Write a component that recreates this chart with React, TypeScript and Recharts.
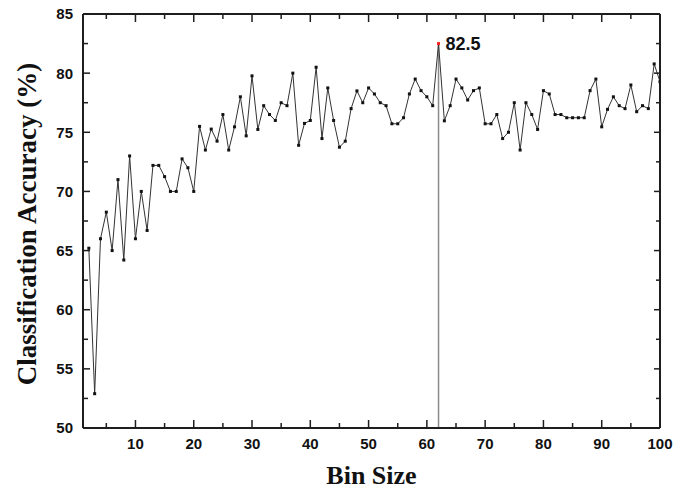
import React from 'react';
import { LineChart, Line, XAxis, YAxis, ReferenceLine } from 'recharts';

// classification accuracy (%) for bin sizes 2..100
const accuracy = [
  65.2, 52.9, 66.0, 68.25, 65.0, 71.0, 64.2, 73.0, 66.0,
  70.0, 66.7, 72.2, 72.2, 71.25, 70.0, 70.0, 72.75, 72.0, 70.0,
  75.5, 73.5, 75.27, 74.25, 76.5, 73.5, 75.46, 78.0, 74.7, 79.77,
  75.24, 77.25, 76.5, 76.0, 77.5, 77.25, 80.0, 73.9, 75.75, 76.0,
  80.5, 74.47, 78.75, 76.0, 73.74, 74.25, 77.0, 78.5, 77.5, 78.75,
  78.24, 77.5, 77.25, 75.72, 75.72, 76.23, 78.24, 79.5, 78.52, 78.0,
  77.25, 82.5, 75.97, 77.25, 79.5, 78.75, 77.73, 78.52, 78.75, 75.72,
  75.72, 76.5, 74.47, 75.0, 77.5, 73.5, 77.5, 76.5, 75.24, 78.52,
  78.24, 76.5, 76.5, 76.23, 76.23, 76.23, 76.23, 78.52, 79.5, 75.46,
  76.94, 78.0, 77.25, 77.0, 79.0, 76.74, 77.25, 77.0, 80.78, 79.28,
];
const binSizes = accuracy.map((_, i) => i + 2);

const xTicks = [5, 10, 15, 20, 25, 30, 35, 40, 45, 50, 55, 60, 65, 70, 75, 80, 85, 90, 95, 100];
const xLabels = [10, 20, 30, 40, 50, 60, 70, 80, 90, 100];
const yTicks = [50, 52.5, 55, 57.5, 60, 62.5, 65, 67.5, 70, 72.5, 75, 77.5, 80, 82.5, 85];
const yLabels = [50, 55, 60, 65, 70, 75, 80, 85];

const peakBin = 62;
const peakText = '82.5';

const data = binSizes.map((bin, i) => ({ bin, acc: accuracy[i] }));

const AXIS = '#1e1e1e';
const SANS = '"Liberation Sans", Arial, sans-serif';
const SERIF = '"Liberation Serif", "Times New Roman", serif';

const BottomTick = ({ x, y, payload }: any) => {
  const major = xLabels.includes(payload.value);
  return (
    <g>
      <line x1={x} x2={x} y1={y} y2={y - (major ? 8 : 5)} stroke={AXIS} strokeWidth={1.5} />
      {major && (
        <text x={x} y={y + 21} textAnchor="middle" fontFamily={SANS} fontWeight="bold" fontSize={15} fill="#111">
          {payload.value}
        </text>
      )}
    </g>
  );
};

const TopTick = ({ x, y, payload }: any) => {
  const major = xLabels.includes(payload.value);
  return <line x1={x} x2={x} y1={y} y2={y + (major ? 8 : 5)} stroke={AXIS} strokeWidth={1.5} />;
};

const LeftTick = ({ x, y, payload }: any) => {
  const major = yLabels.includes(payload.value);
  return (
    <g>
      <line x1={x} x2={x + (major ? 7 : 5)} y1={y} y2={y} stroke={AXIS} strokeWidth={1.5} />
      {major && (
        <text x={x - 10} y={y} dy="0.36em" textAnchor="end" fontFamily={SANS} fontWeight="bold" fontSize={15} fill="#111">
          {payload.value}
        </text>
      )}
    </g>
  );
};

const RightTick = ({ x, y, payload }: any) => {
  const major = yLabels.includes(payload.value);
  return <line x1={x} x2={x - (major ? 6 : 4)} y1={y} y2={y} stroke={AXIS} strokeWidth={1.5} />;
};

const SquareDot = ({ cx, cy, payload }: any) => {
  if (cx == null || cy == null) return null;
  const peak = payload.bin === peakBin;
  return (
    <g>
      <rect x={cx - 1.5} y={cy - 1.5} width={3} height={3} fill={peak ? '#ff2020' : '#111'} />
      {peak && (
        <text x={cx + 7} y={cy} dy="0.38em" fontFamily={SANS} fontWeight="bold" fontSize={18} fill="#111">
          {peakText}
        </text>
      )}
    </g>
  );
};

export default function App() {
  return (
    <div style={{ position: 'absolute', left: 0, top: 0, width: 675, height: 491, background: '#fff' }}>
      <LineChart width={675} height={491} data={data} margin={{ top: 13, right: 14, bottom: 62, left: 82 }}>
        <XAxis
          dataKey="bin"
          type="number"
          domain={[1, 100]}
          ticks={xTicks}
          interval={0}
          height={1}
          tickSize={0}
          tickMargin={0}
          tickLine={false}
          tick={<BottomTick />}
          axisLine={{ stroke: AXIS, strokeWidth: 2 }}
          allowDataOverflow
          label={{
            content: ({ viewBox }: any) => (
              <text
                x={viewBox.x + viewBox.width / 2}
                y={viewBox.y + 56}
                textAnchor="middle"
                fontFamily={SERIF}
                fontWeight="bold"
                fontSize={26}
                fill="#111"
              >
                Bin Size
              </text>
            ),
          }}
        />
        <XAxis
          xAxisId="top"
          dataKey="bin"
          orientation="top"
          type="number"
          domain={[1, 100]}
          ticks={xTicks}
          interval={0}
          height={1}
          tickSize={0}
          tickMargin={0}
          tickLine={false}
          tick={<TopTick />}
          axisLine={{ stroke: AXIS, strokeWidth: 2 }}
          allowDataOverflow
        />
        <YAxis
          type="number"
          domain={[50, 85]}
          ticks={yTicks}
          interval={0}
          width={1}
          tickSize={0}
          tickMargin={0}
          tickLine={false}
          tick={<LeftTick />}
          axisLine={{ stroke: AXIS, strokeWidth: 2 }}
          allowDataOverflow
          label={{
            content: ({ viewBox }: any) => (
              <text
                transform={`translate(${viewBox.x + viewBox.width - 47}, ${viewBox.y + viewBox.height / 2 + 3}) rotate(-90)`}
                textAnchor="middle"
                fontFamily={SERIF}
                fontWeight="bold"
                fontSize={27}
                fill="#111"
              >
                Classification Accuracy (%)
              </text>
            ),
          }}
        />
        <YAxis
          yAxisId="right"
          orientation="right"
          type="number"
          domain={[50, 85]}
          ticks={yTicks}
          interval={0}
          width={1}
          tickSize={0}
          tickMargin={0}
          tickLine={false}
          tick={<RightTick />}
          axisLine={{ stroke: AXIS, strokeWidth: 2 }}
          allowDataOverflow
        />
        <ReferenceLine
          segment={[{ x: peakBin, y: 50 }, { x: peakBin, y: accuracy[peakBin - 2] }]}
          stroke="#8a8a8a"
          strokeWidth={1.5}
        />
        {/* invisible twin so the top / right frame axes get scales */}
        <Line
          xAxisId="top"
          yAxisId="right"
          type="linear"
          dataKey="acc"
          stroke="none"
          dot={false}
          activeDot={false}
          legendType="none"
          isAnimationActive={false}
        />
        <Line
          type="linear"
          dataKey="acc"
          stroke="#333"
          strokeWidth={1}
          dot={<SquareDot />}
          activeDot={false}
          isAnimationActive={false}
        />
      </LineChart>
    </div>
  );
}
